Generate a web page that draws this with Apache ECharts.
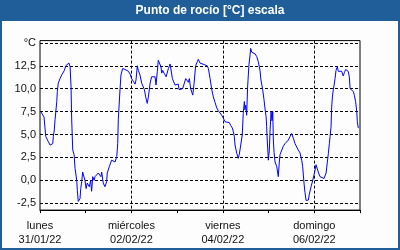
<!DOCTYPE html>
<html><head><meta charset="utf-8">
<script src="https://cdn.jsdelivr.net/npm/echarts@6/dist/echarts.min.js"></script>
<style>html,body{margin:0;padding:0;background:#fcfdfc}#c{width:400px;height:250px}</style>
</head><body><div id="c"></div>
<script>
const titleText = 'Punto de rocío [°C] escala';
const dayNames = ['lunes', 'miércoles', 'viernes', 'domingo'];
const dayDates = ['31/01/22', '02/02/22', '04/02/22', '06/02/22'];
const yTop = '°C';
// hours since 31/01/22 00:00
const hours = [0.4,1.4,2.1,2.6,3.0,3.5,4.4,5.3,6.1,6.7,
7.0,7.5,7.9,8.8,9.1,9.6,10.5,11.4,12.2,12.8,
13.5,14.0,15.2,15.8,16.3,16.6,17.0,17.2,17.9,18.4,
19.3,19.6,20.1,20.6,21.0,21.4,21.9,22.4,23.1,23.6,
24.2,24.8,25.4,25.9,26.6,27.1,27.7,28.4,28.9,29.8,
30.6,31.5,32.0,32.4,33.2,34.1,35.0,35.3,36.4,37.6,
38.5,39.4,40.3,40.8,41.1,42.0,42.5,43.4,44.6,45.5,
46.4,47.3,48.1,49.0,49.9,50.4,51.1,51.6,52.5,53.4,
54.2,54.8,55.5,56.3,56.9,57.8,58.6,59.5,60.4,60.9,
61.6,62.1,63.0,63.5,63.9,64.4,65.1,65.6,66.2,66.8,
67.4,68.3,68.8,69.5,70.0,70.9,71.8,72.6,73.0,73.5,
74.0,74.9,75.6,76.5,77.3,77.9,78.4,79.1,79.6,80.2,
80.9,81.7,82.6,83.1,84.0,84.9,86.6,87.8,88.4,89.3,
90.1,91.0,91.9,92.8,93.6,94.5,95.4,96.2,97.1,98.0,
99.4,100.1,101.0,101.5,102.0,102.4,103.3,104.1,104.6,105.4,
106.2,106.7,107.3,107.6,108.0,108.5,109.0,109.7,110.3,110.6,
111.1,112.0,112.9,113.8,114.6,115.5,116.0,116.9,117.6,118.1,
118.7,119.0,119.3,119.9,120.4,120.8,121.3,121.8,122.2,122.5,
122.9,123.4,124.3,125.1,125.6,126.0,126.9,127.7,128.6,129.5,
130.4,131.3,132.1,133.0,133.9,134.8,135.6,136.5,137.4,137.9,
138.6,139.1,139.7,140.3,140.9,141.4,142.3,143.2,144.4,144.9,
145.6,146.1,147.0,147.9,149.1,150.2,150.8,151.4,151.9,152.3,
152.8,153.1,153.5,154.0,154.4,154.9,155.4,156.1,156.6,157.5,
158.4,159.2,159.8,160.5,161.3,161.8,162.4,162.8,163.6,164.5,
165.0,165.7,166.3,166.6,167.1];
const dewPoint = [7.5,7.3,6.9,5.8,4.8,4.9,4.2,3.85,3.75,4.0,
4.8,5.5,6.6,8.6,9.7,10.6,11.1,11.5,11.7,12.0,
12.5,12.7,12.8,12.4,10.2,6.9,4.4,3.3,2.8,1.3,
0.0,-1.1,-2.3,-2.3,-2.0,-0.9,-0.15,0.9,0.9,0.0,
-0.9,-0.3,-0.25,-0.7,0.0,-1.2,0.4,0.0,0.4,0.6,
0.8,0.9,0.4,0.9,-0.3,-0.7,-0.15,0.8,1.5,2.2,
2.1,2.0,2.6,4.0,6.6,9.9,11.5,12.2,12.1,12.1,
11.9,11.6,11.1,10.8,10.5,10.95,12.5,12.0,11.5,10.6,
10.8,9.9,9.1,8.4,9.1,10.6,11.3,11.5,11.3,10.4,
11.9,13.1,12.95,12.4,11.7,12.0,11.7,11.9,11.3,11.1,
12.2,12.7,12.5,11.1,10.95,10.4,10.2,10.5,9.9,10.0,
9.7,10.0,9.95,11.1,11.2,10.7,11.1,10.0,9.9,9.3,
10.6,12.5,12.95,13.2,12.8,12.6,12.6,12.5,12.2,11.1,
10.0,9.1,8.5,7.9,7.6,7.5,7.1,6.8,6.4,6.4,
6.3,6.0,5.7,5.3,4.8,3.85,2.95,2.4,2.8,3.85,
5.0,7.3,8.6,7.7,8.2,7.1,10.2,12.6,13.7,14.4,
14.0,13.9,13.8,13.5,12.95,12.0,10.95,9.9,8.8,7.9,
6.95,5.85,4.4,2.2,3.3,5.5,7.5,6.5,7.5,4.4,
3.0,2.0,1.5,0.4,1.9,2.8,2.95,3.7,4.0,4.2,
4.4,4.8,5.1,4.6,4.0,3.85,3.3,3.0,2.2,1.5,
-0.3,-1.3,-2.2,-2.4,-2.15,-1.5,-0.7,0.0,1.1,1.7,
1.5,0.9,0.4,0.2,0.2,0.8,1.9,2.95,4.0,4.8,
5.85,7.9,9.1,9.9,10.4,11.1,12.0,12.4,11.9,11.75,
11.9,11.4,11.75,12.1,12.1,11.9,11.3,10.0,9.8,9.7,
9.3,8.6,7.5,6.4,5.7];

const FONT = '"Liberation Sans", Arial, sans-serif';
const data = hours.map((h, i) => [h, dewPoint[i]]);
const chart = echarts.init(document.getElementById('c'), null, {renderer: 'canvas'});
chart.setOption({
  animation: false,
  backgroundColor: '#fcfdfc',
  textStyle: {fontFamily: FONT},
  graphic: [
    {type: 'rect', left: 0, top: 0, shape: {width: 400, height: 21}, style: {fill: '#1f5e98'}, z: 0},
    {type: 'rect', left: 0, top: 0, shape: {width: 2, height: 250}, style: {fill: '#1f5e98'}, z: 0},
    {type: 'rect', right: 0, top: 0, shape: {width: 2, height: 250}, style: {fill: '#1f5e98'}, z: 0},
    {type: 'rect', left: 0, bottom: 0, shape: {width: 400, height: 2}, style: {fill: '#1f5e98'}, z: 0},
    {type: 'text', x: 210, y: 10.5, style: {text: titleText, fill: '#ffffff', font: 'bold 12px ' + FONT, align: 'center', verticalAlign: 'middle'}, z: 10}
  ],
  grid: [
    {left: 40, right: 40, top: 40.6, bottom: 39.9, show: true, borderColor: '#000', borderWidth: 1, backgroundColor: 'transparent', z: 5},
    {left: 40, right: 40, top: 42.9, bottom: 46.8}
  ],
  xAxis: [
    {type: 'value', gridIndex: 0, min: 0, max: 168, interval: 24,
     axisLine: {show: true, onZero: false, lineStyle: {color: '#000'}},
     axisTick: {show: true, length: 3, lineStyle: {color: '#000'}},
     splitLine: {show: false},
     axisLabel: {margin: 9, color: '#111', fontSize: 11, fontFamily: FONT, lineHeight: 14,
       showMinLabel: true, showMaxLabel: true,
       formatter: v => (v % 48 === 0 && v < 168) ? dayNames[v / 48] + '\n' + dayDates[v / 48] : ''}},
    {type: 'value', gridIndex: 0, min: 0, max: 168, interval: 48,
     axisLine: {show: false}, axisTick: {show: false}, axisLabel: {show: false},
     splitLine: {show: true, showMinLine: false, showMaxLine: false, lineStyle: {color: '#000', type: [3, 2], width: 1}}},
    {type: 'value', gridIndex: 1, min: 0, max: 168, show: false}
  ],
  yAxis: [
    {type: 'value', gridIndex: 0, min: -3.25, max: 15.25,
     axisLine: {show: false}, axisTick: {show: false}, axisLabel: {show: false}, splitLine: {show: false}},
    {type: 'value', gridIndex: 1, min: -2.5, max: 15, interval: 2.5,
     axisLine: {show: false}, axisTick: {show: false},
     axisLabel: {margin: 4, color: '#111', fontSize: 11, fontFamily: FONT,
       formatter: v => v === 15 ? yTop : v.toFixed(1).replace('.', ',')},
     splitLine: {show: true, lineStyle: {color: '#000', type: [3, 2], width: 1}}}
  ],
  series: [{
    type: 'line', xAxisIndex: 0, yAxisIndex: 0, data: data,
    showSymbol: false, symbol: 'none', z: 10,
    lineStyle: {color: '#0000ff', width: 1}
  }]
});
</script>
</body></html>
